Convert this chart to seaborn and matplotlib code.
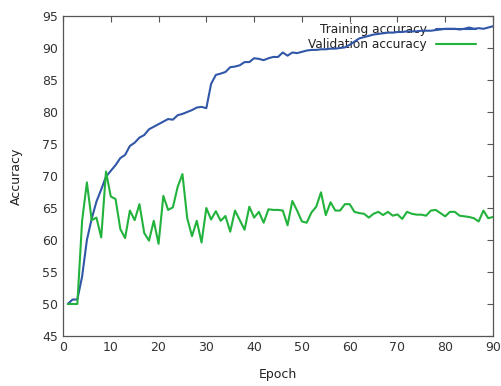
import matplotlib
matplotlib.use("Agg")
import matplotlib.pyplot as plt
import seaborn as sns
import pandas as pd
import numpy as np

epochs = list(range(1, 91))
train_acc = [50.0, 50.7, 50.7, 54.3, 60.0, 63.3, 66.0, 67.9, 69.9, 70.8,
             71.7, 72.8, 73.3, 74.7, 75.2, 76.0, 76.4, 77.3, 77.7, 78.1,
             78.5, 78.9, 78.8, 79.5, 79.7, 80.0, 80.3, 80.7, 80.8, 80.6,
             84.4, 85.8, 86.0, 86.25, 87.0, 87.1, 87.3, 87.8, 87.8, 88.4,
             88.3, 88.1, 88.4, 88.6, 88.6, 89.3, 88.8, 89.3, 89.2, 89.4,
             89.6, 89.7, 89.7, 89.8, 89.8, 89.9, 89.9, 90.0, 90.1, 90.5,
             91.0, 91.5, 91.7, 91.9, 92.1, 92.2, 92.3, 92.4, 92.4, 92.5,
             92.5, 92.6, 92.6, 92.6, 92.7, 92.7, 92.7, 92.8, 92.9, 93.0,
             93.0, 93.0, 92.9, 93.0, 93.2, 93.0, 93.1, 93.0, 93.2, 93.4]
val_acc = [50.0, 50.0, 50.0, 63.0, 69.0, 63.1, 63.5, 60.4, 70.7, 66.8,
           66.4, 61.7, 60.3, 64.6, 63.1, 65.6, 61.1, 59.9, 63.0, 59.4,
           66.9, 64.7, 65.1, 68.3, 70.3, 63.4, 60.6, 63.0, 59.6, 65.0,
           63.2, 64.5, 63.0, 63.75, 61.3, 64.6, 63.1, 61.6, 65.2, 63.5,
           64.4, 62.7, 64.8, 64.7, 64.7, 64.6, 62.3, 66.1, 64.6, 62.9,
           62.7, 64.3, 65.2, 67.45, 63.9, 65.9, 64.6, 64.6, 65.6, 65.6,
           64.4, 64.2, 64.1, 63.5, 64.1, 64.4, 63.9, 64.4, 63.8, 64.0,
           63.3, 64.4, 64.1, 63.96, 63.96, 63.8, 64.6, 64.7, 64.2, 63.7,
           64.4, 64.4, 63.8, 63.7, 63.6, 63.4, 62.9, 64.6, 63.4, 63.6]

x_ticks = list(range(0, 91, 10))
y_ticks = list(range(45, 96, 5))
series_names = ["Training accuracy", "Validation accuracy"]

sns.set_style("white")
plt.rcParams["font.family"] = ["DejaVu Sans"]
plt.rcParams["font.size"] = 9

df = pd.DataFrame({
    "Epoch": epochs * 2,
    "Accuracy": train_acc + val_acc,
    "series": [series_names[0]] * len(epochs) + [series_names[1]] * len(epochs),
})

fig = plt.figure(figsize=(5.02, 3.86), dpi=100)
ax = fig.add_axes([63 / 502, 1 - 336 / 386, 430 / 502, 320 / 386])

sns.lineplot(data=df, x="Epoch", y="Accuracy", hue="series",
             palette={series_names[0]: "#3157a8", series_names[1]: "#22b33c"},
             linewidth=1.5, ax=ax, legend=True)

ax.set_xlim(0, 90)
ax.set_ylim(45, 95)
ax.set_xticks(x_ticks)
ax.set_yticks(y_ticks)
ax.tick_params(direction="in", length=4, width=0.8, color="#555555",
               top=True, right=True, labelsize=9, labelcolor="#333333")
for s in ax.spines.values():
    s.set_color("#555555")
    s.set_linewidth(0.9)
ax.set_xlabel("Epoch", fontsize=9, color="#222222", labelpad=10)
ax.set_ylabel("Accuracy", fontsize=9, color="#222222", labelpad=14)

handles, labels = ax.get_legend_handles_labels()
leg = ax.legend(handles, labels, loc="upper right", frameon=False,
                markerfirst=False, handlelength=3.3, handletextpad=0.8,
                labelspacing=0.22, fontsize=8.7,
                bbox_to_anchor=(1 - 12 / 430, 1 - 2 / 320),
                borderaxespad=0.0)
leg.set_zorder(1)
for t in leg.get_texts():
    t.set_color("#222222")

fig.savefig("out.png", dpi=100)
